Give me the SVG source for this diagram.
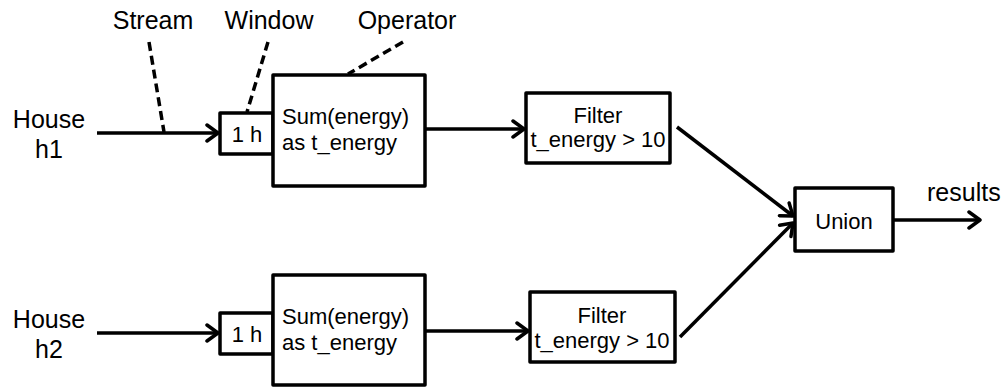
<svg xmlns="http://www.w3.org/2000/svg" width="1003" height="387" viewBox="0 0 1003 387">
<style>
.box{fill:#fff;stroke:#000;stroke-width:3.5;stroke-linejoin:round}
.lbl{font-family:"Liberation Sans",Arial,sans-serif;font-size:25px;fill:#000}
.txt{font-family:"Liberation Sans",Arial,sans-serif;font-size:22px;fill:#000}
.edge{fill:none;stroke:#000;stroke-width:3.5;marker-end:url(#arr)}
.dash{fill:none;stroke:#000;stroke-width:3.5;stroke-dasharray:9,5}
</style>
<defs>
<marker id="arr" markerUnits="userSpaceOnUse" markerWidth="16" markerHeight="20" refX="13" refY="10" orient="auto" viewBox="0 0 16 20">
<path d="M2,2 L13,10 L2,18" fill="none" stroke="#000" stroke-width="3.5" stroke-linecap="round" stroke-linejoin="round"/>
</marker>
</defs>
<g id="labels">
<text class="lbl" x="153" y="29" text-anchor="middle">Stream</text>
<text class="lbl" x="269" y="29" text-anchor="middle">Window</text>
<text class="lbl" x="407" y="29" text-anchor="middle">Operator</text>
</g>
<g id="house1">
<text class="lbl" x="49" y="128" text-anchor="middle">House</text>
<text class="lbl" x="49" y="158" text-anchor="middle">h1</text>
</g>
<g id="house2">
<text class="lbl" x="49" y="328" text-anchor="middle">House</text>
<text class="lbl" x="49" y="358" text-anchor="middle">h2</text>
</g>
<g id="window1">
<rect class="box" x="220" y="113" width="53" height="41"/>
<text class="txt" x="247" y="142" text-anchor="middle">1 h</text>
</g>
<g id="operator1">
<rect class="box" x="273" y="75" width="152" height="111"/>
<text class="txt" x="282" y="124">Sum(energy)</text>
<text class="txt" x="282" y="150">as t_energy</text>
</g>
<g id="window2">
<rect class="box" x="220" y="313" width="53" height="41"/>
<text class="txt" x="247" y="342" text-anchor="middle">1 h</text>
</g>
<g id="operator2">
<rect class="box" x="273" y="275" width="152" height="110"/>
<text class="txt" x="282" y="324">Sum(energy)</text>
<text class="txt" x="282" y="350">as t_energy</text>
</g>
<g id="filter1">
<rect class="box" x="526" y="93" width="144" height="70"/>
<text class="txt" x="598" y="123" text-anchor="middle">Filter</text>
<text class="txt" x="598" y="147" text-anchor="middle">t_energy &gt; 10</text>
</g>
<g id="filter2">
<rect class="box" x="530" y="292" width="145" height="70"/>
<text class="txt" x="602" y="323" text-anchor="middle">Filter</text>
<text class="txt" x="602" y="348" text-anchor="middle">t_energy &gt; 10</text>
</g>
<g id="union">
<rect class="box" x="795" y="188" width="98" height="63"/>
<text class="txt" x="844" y="229" text-anchor="middle">Union</text>
</g>
<g id="results">
<text class="lbl" x="927" y="201">results</text>
</g>
<g id="connectors">
<line class="edge" x1="97" y1="133" x2="218" y2="133"/>
<line class="edge" x1="97" y1="333" x2="218" y2="333"/>
<line class="edge" x1="425" y1="129" x2="524" y2="129"/>
<line class="edge" x1="425" y1="331" x2="528" y2="331"/>
<line class="edge" x1="677" y1="127" x2="793" y2="216"/>
<line class="edge" x1="680" y1="337" x2="793" y2="223"/>
<line class="edge" x1="893" y1="220" x2="980" y2="220"/>
<line class="dash" x1="149" y1="42" x2="164" y2="132"/>
<line class="dash" x1="268" y1="42" x2="247" y2="112"/>
<line class="dash" x1="403" y1="42" x2="348" y2="74"/>
</g>
</svg>
